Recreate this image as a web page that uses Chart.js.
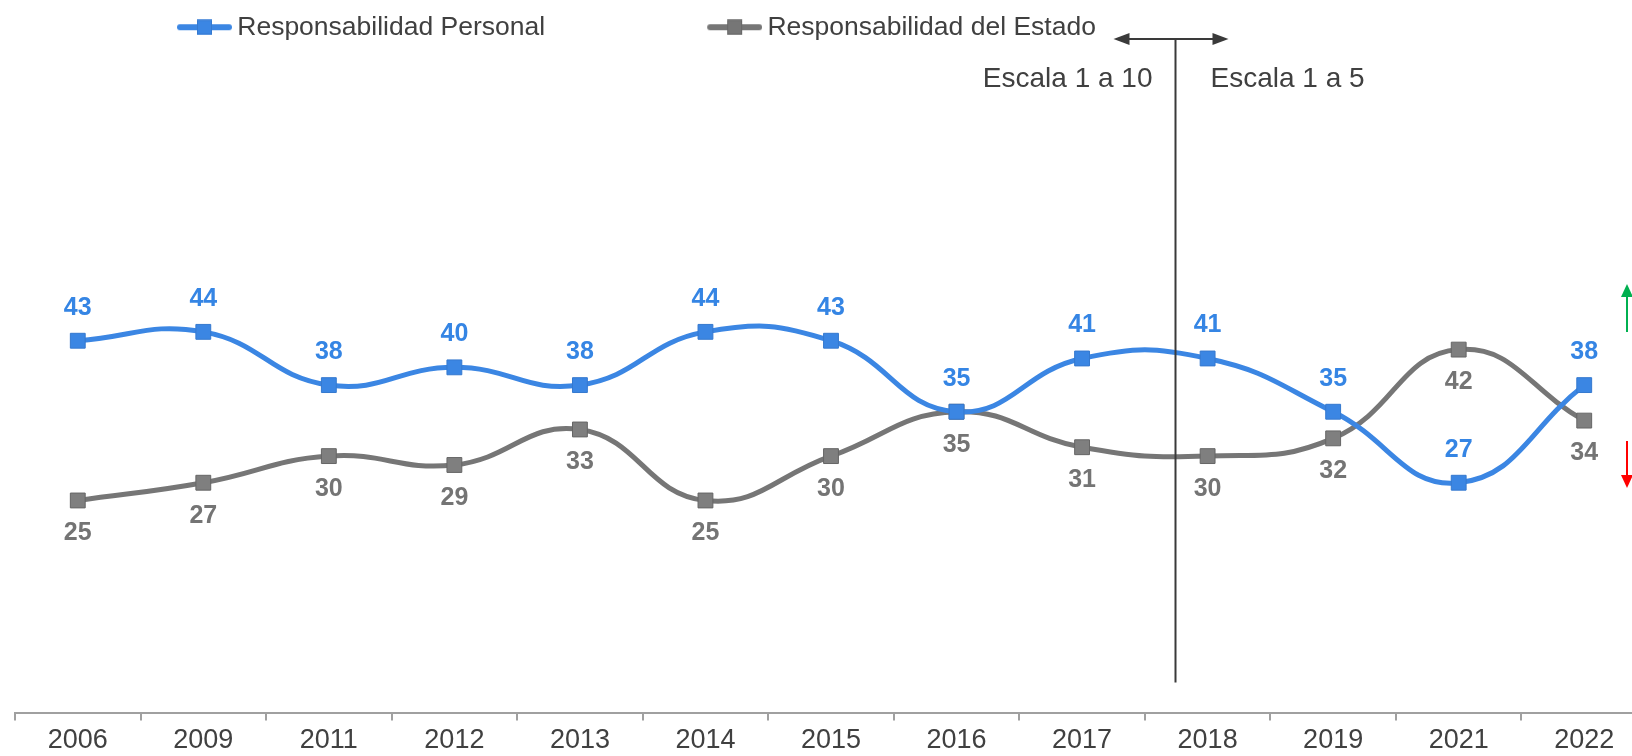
<!DOCTYPE html>
<html>
<head>
<meta charset="utf-8">
<script src="https://cdn.jsdelivr.net/npm/chart.js@4.4.0/dist/chart.umd.min.js"></script>
<style>
  html, body { margin: 0; padding: 0; background: #fff; overflow: hidden; }
  /* the last category runs past the right window edge in the original,
     so the canvas is a bit wider than the window */
  #wrap { width: 1647px; height: 761px; position: relative; }
</style>
</head>
<body>
<div id="wrap"><canvas id="chart"></canvas></div>
<script>
const years = ['2006', '2009', '2011', '2012', '2013', '2014', '2015', '2016', '2017', '2018', '2019', '2021', '2022'];
const personal = [43, 44, 38, 40, 38, 44, 43, 35, 41, 41, 35, 27, 38];
const estado = [25, 27, 30, 29, 33, 25, 30, 35, 31, 30, 32, 42, 34];
const seriesNames = ['Responsabilidad Personal', 'Responsabilidad del Estado'];
const scaleNotes = ['Escala 1 a 10', 'Escala 1 a 5'];
const scaleSplit = 8.74;   // category position where the survey scale changes
const splitTop = 77.0, splitBottom = 4.5;  // in value units

const BLUE = '#3b86e3', GRAY = '#767676', TEXT = '#404040';
const FONT = '"Liberation Sans", Arial, sans-serif';

// legend marker: line with a square, padded on the left so items sit where Excel put them
function legendMark(color, border) {
  const c = document.createElement('canvas');
  c.width = 211; c.height = 16;
  const g = c.getContext('2d');
  g.strokeStyle = color; g.lineWidth = 6; g.lineCap = 'round';
  g.beginPath(); g.moveTo(159, 8); g.lineTo(208, 8); g.stroke();
  g.fillStyle = color; g.fillRect(176, 0.5, 15, 15);
  g.strokeStyle = border; g.lineWidth = 1; g.strokeRect(176.5, 1, 14, 14);
  return c;
}
const marks = [legendMark(BLUE, '#3579cf'), legendMark(GRAY, '#666666')];

const valueLabels = {
  id: 'valueLabels',
  afterDatasetsDraw(chart) {
    const ctx = chart.ctx;
    ctx.save();
    ctx.font = 'bold 25px ' + FONT;
    ctx.textAlign = 'center';
    ctx.textBaseline = 'middle';
    chart.data.datasets.forEach((ds, i) => {
      const meta = chart.getDatasetMeta(i);
      const dir = i === 0 ? -1 : 1;  // personal above, estado below
      ctx.fillStyle = ds.labelColor;
      meta.data.forEach((pt, j) => ctx.fillText(ds.data[j], pt.x, pt.y + dir * 33));
    });
    ctx.restore();
  }
};

function arrowHead(ctx, x, y, dx, dy, len, half) {
  // tip at x,y pointing along dx,dy
  const px = -dy, py = dx;
  ctx.beginPath();
  ctx.moveTo(x, y);
  ctx.lineTo(x - dx * len + px * half, y - dy * len + py * half);
  ctx.lineTo(x - dx * len - px * half, y - dy * len - py * half);
  ctx.closePath();
  ctx.fill();
}

const scaleChange = {
  id: 'scaleChange',
  afterDraw(chart) {
    const { ctx, scales: { x, y } } = chart;
    const sx = Math.round(x.getPixelForValue(scaleSplit)) + 0.5;
    const top = y.getPixelForValue(splitTop);
    const bottom = y.getPixelForValue(splitBottom);
    ctx.save();
    ctx.strokeStyle = '#3a3a3a';
    ctx.fillStyle = '#3a3a3a';
    ctx.lineWidth = 2;
    ctx.beginPath();
    ctx.moveTo(sx, top); ctx.lineTo(sx, bottom);
    ctx.moveTo(sx - 56, top); ctx.lineTo(sx + 47, top);
    ctx.stroke();
    arrowHead(ctx, sx - 62, top, -1, 0, 16, 6);
    arrowHead(ctx, sx + 53, top, 1, 0, 16, 6);

    ctx.font = '28px ' + FONT;
    ctx.fillStyle = TEXT;
    ctx.textBaseline = 'middle';
    ctx.textAlign = 'right';
    ctx.fillText(scaleNotes[0], sx - 23, top + 40);
    ctx.textAlign = 'left';
    ctx.fillText(scaleNotes[1], sx + 35, top + 40);

    // up / down markers at the right edge of the window
    const rx = chart.width - 20;
    ctx.lineWidth = 2;
    ctx.strokeStyle = '#00b050'; ctx.fillStyle = '#00b050';
    ctx.beginPath(); ctx.moveTo(rx, 296); ctx.lineTo(rx, 332); ctx.stroke();
    arrowHead(ctx, rx, 284, 0, -1, 13, 6);
    ctx.strokeStyle = '#ff0000'; ctx.fillStyle = '#ff0000';
    ctx.beginPath(); ctx.moveTo(rx, 441); ctx.lineTo(rx, 476); ctx.stroke();
    arrowHead(ctx, rx, 488, 0, 1, 13, 6);
    ctx.restore();
  }
};

new Chart(document.getElementById('chart'), {
  type: 'line',
  data: {
    labels: years,
    datasets: [{
      label: seriesNames[0],
      data: personal,
      borderColor: BLUE,
      backgroundColor: BLUE,
      pointBorderColor: '#3579cf',
      labelColor: '#3585e4',
      borderWidth: 5,
      pointStyle: 'rect',
      pointRadius: 10.5,
      pointBorderWidth: 1,
      tension: 0.45
    }, {
      label: seriesNames[1],
      data: estado,
      borderColor: GRAY,
      backgroundColor: '#7f7f7f',
      pointBorderColor: '#666666',
      labelColor: '#747474',
      borderWidth: 5,
      pointStyle: 'rect',
      pointRadius: 10.5,
      pointBorderWidth: 1,
      tension: 0.45
    }]
  },
  options: {
    responsive: true,
    maintainAspectRatio: false,
    animation: false,
    layout: { autoPadding: false, padding: { left: 15, right: 0, top: 0, bottom: 0 } },
    plugins: {
      tooltip: { enabled: false },
      legend: {
        position: 'top',
        align: 'start',
        labels: {
          color: TEXT,
          font: { size: 26.5, family: FONT },
          usePointStyle: true,
          pointStyleWidth: 195,
          padding: 14,
          generateLabels(chart) {
            const items = Chart.defaults.plugins.legend.labels.generateLabels(chart);
            items.forEach((it, i) => { it.pointStyle = marks[i]; });
            return items;
          }
        }
      }
    },
    scales: {
      x: {
        offset: true,
        grid: { offset: true, drawOnChartArea: false, tickLength: 8, color: '#a0a0a0', lineWidth: 2 },
        border: { display: true, color: '#a0a0a0', width: 2 },
        ticks: { color: TEXT, font: { size: 27, family: FONT }, padding: 4, maxRotation: 0, autoSkip: false }
      },
      y: {
        display: false,
        min: 1.1,
        max: 75.7
      }
    }
  },
  plugins: [valueLabels, scaleChange]
});
</script>
</body>
</html>
